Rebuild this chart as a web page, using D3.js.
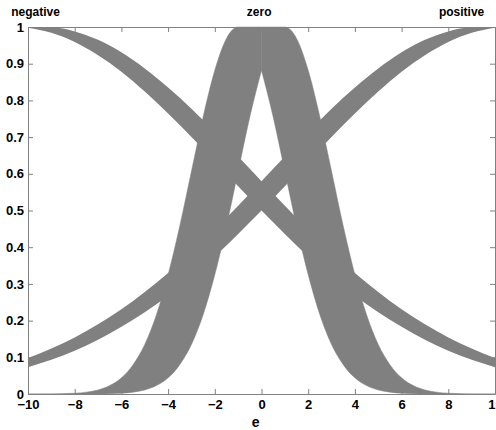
<!DOCTYPE html>
<html>
<head>
<meta charset="utf-8">
<script src="https://cdn.jsdelivr.net/npm/d3@7"></script>
<style>
  body { margin: 0; background: #fff; }
  svg text { font-family: "Liberation Sans", Arial, sans-serif; font-weight: bold; }
</style>
</head>
<body>
<div id="container"></div>
<script>
/* DATA */
const xTicks = [-10, -8, -6, -4, -2, 0, 2, 4, 6, 8, 10];
const yTicks = [0, 0.1, 0.2, 0.3, 0.4, 0.5, 0.6, 0.7, 0.8, 0.9, 1];
const setNames = ["negative", "zero", "positive"];

// negative / positive sets, read at every integer of e
const sideX = [-10, -9, -8, -7, -6, -5, -4, -3, -2, -1, 0, 1, 2, 3, 4, 5, 6, 7, 8, 9, 10];
const negUpper = [1, 0.999, 0.988, 0.965, 0.931, 0.887, 0.835, 0.777, 0.713, 0.647, 0.580,
                  0.513, 0.448, 0.387, 0.330, 0.278, 0.231, 0.190, 0.154, 0.124, 0.098];
const negLower = [0.998, 0.984, 0.959, 0.923, 0.878, 0.824, 0.764, 0.700, 0.634, 0.566, 0.500,
                  0.436, 0.375, 0.319, 0.268, 0.223, 0.183, 0.148, 0.118, 0.093, 0.073];
const posUpper = [0.098, 0.124, 0.154, 0.190, 0.231, 0.278, 0.330, 0.387, 0.448, 0.513, 0.580,
                  0.647, 0.713, 0.777, 0.835, 0.887, 0.931, 0.965, 0.988, 0.999, 1];
const posLower = [0.073, 0.093, 0.118, 0.148, 0.183, 0.223, 0.268, 0.319, 0.375, 0.436, 0.500,
                  0.566, 0.634, 0.700, 0.764, 0.824, 0.878, 0.923, 0.959, 0.984, 0.998];

// zero set, read every half unit
const zeroX = [-10, -9.5, -9, -8.5, -8, -7.5, -7, -6.5, -6, -5.5, -5, -4.5, -4, -3.5, -3, -2.5, -2, -1.5, -1, -0.5, 0,
               0.5, 1, 1.5, 2, 2.5, 3, 3.5, 4, 4.5, 5, 5.5, 6, 6.5, 7, 7.5, 8, 8.5, 9, 9.5, 10];
const zeroUpper = [0, 0, 0.0003, 0.0009, 0.0022, 0.0051, 0.011, 0.023, 0.044, 0.080, 0.135, 0.216, 0.325, 0.458, 0.607, 0.755, 0.882, 0.969, 1, 1, 1,
                   1, 1, 0.969, 0.882, 0.755, 0.607, 0.458, 0.325, 0.216, 0.135, 0.080, 0.044, 0.023, 0.011, 0.0051, 0.0022, 0.0009, 0.0003, 0, 0];
const zeroLower = [0, 0, 0, 0, 0, 0.0001, 0.0003, 0.0009, 0.0022, 0.0051, 0.011, 0.023, 0.044, 0.080, 0.135, 0.216, 0.325, 0.458, 0.607, 0.755, 0.882,
                   0.755, 0.607, 0.458, 0.325, 0.216, 0.135, 0.080, 0.044, 0.023, 0.011, 0.0051, 0.0022, 0.0009, 0.0003, 0.0001, 0, 0, 0, 0, 0];

/* SIZES */
const margin = {top: 27, right: 1, bottom: 36, left: 28},
    width = 467,
    height = 367;

const x = d3.scaleLinear().domain([-10, 10]).range([0, width]);
const y = d3.scaleLinear().domain([0, 1]).range([height, 0]);

const svg = d3.select("#container").append("svg")
    .attr("width", 496)
    .attr("height", 430)
  .append("g")
    .attr("transform", "translate(" + margin.left + "," + margin.top + ")");

/* BANDS */
function band(xs, lo, hi) {
  return d3.area()
    .x((d, i) => x(xs[i]))
    .y0((d, i) => y(lo[i]))
    .y1((d, i) => y(hi[i]))
    .curve(d3.curveMonotoneX)(xs);
}

const fillColor = "#808080";

svg.append("path").attr("d", band(sideX, negLower, negUpper)).attr("fill", fillColor);
svg.append("path").attr("d", band(sideX, posLower, posUpper)).attr("fill", fillColor);

// zero set drawn in two halves so the lower peak stays sharp
// (a thin stroke closes the seam between them)
const mid = zeroX.indexOf(0);
svg.append("path")
    .attr("d", band(zeroX.slice(0, mid + 1), zeroLower.slice(0, mid + 1), zeroUpper.slice(0, mid + 1)))
    .attr("fill", fillColor)
    .attr("stroke", fillColor)
    .attr("stroke-width", 0.5);
svg.append("path")
    .attr("d", band(zeroX.slice(mid), zeroLower.slice(mid), zeroUpper.slice(mid)))
    .attr("fill", fillColor)
    .attr("stroke", fillColor)
    .attr("stroke-width", 0.5);

/* AXES */
function styleAxis(g) {
  g.attr("color", "#808080").attr("font-size", 13).attr("font-family", null);
  g.selectAll("text").attr("fill", "#000");
}

svg.append("g")
    .attr("transform", "translate(0," + height + ")")
    .call(d3.axisBottom(x).tickValues(xTicks).tickSize(-5).tickSizeOuter(0).tickPadding(6))
    .call(styleAxis);

svg.append("g")
    .call(d3.axisLeft(y).tickValues(yTicks).tickFormat(d3.format("~g")).tickSize(-5).tickSizeOuter(0).tickPadding(4))
    .call(styleAxis);

svg.append("g")
    .call(d3.axisTop(x).tickValues(xTicks).tickFormat("").tickSize(-5).tickSizeOuter(0))
    .call(styleAxis);

svg.append("g")
    .attr("transform", "translate(" + width + ",0)")
    .call(d3.axisRight(y).tickValues(yTicks).tickFormat("").tickSize(-5).tickSizeOuter(0))
    .call(styleAxis);

/* SET NAMES ABOVE THE AXES */
const namePos = [-9.68, -0.1, 8.57];
svg.selectAll(".setname")
    .data(setNames)
  .enter().append("text")
    .attr("class", "setname")
    .attr("x", (d, i) => x(namePos[i]))
    .attr("y", -11)
    .attr("text-anchor", "middle")
    .attr("font-size", 12)
    .text(d => d);

/* X LABEL */
svg.append("text")
    .attr("x", x(-0.25))
    .attr("y", height + 33)
    .attr("text-anchor", "middle")
    .attr("font-size", 14)
    .text("e");
</script>
</body>
</html>
